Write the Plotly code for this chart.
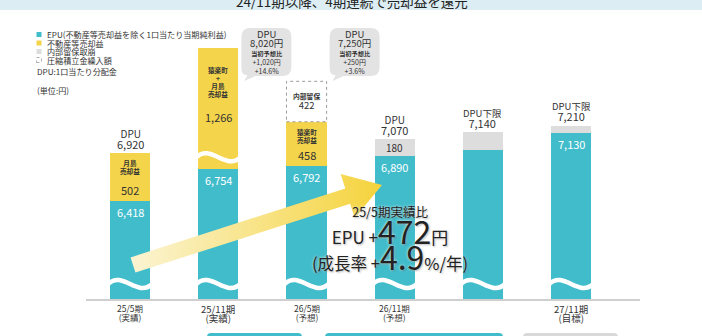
import math
import plotly.graph_objects as go

# ---------------- data ----------------
periods = ["25/5期", "25/11期", "26/5期", "26/11期", "27/5期", "27/11期"]
period_notes = ["(実績)", "(実績)", "(予想)", "(予想)", "", "(目標)"]
tick_shown = [True, True, True, True, False, True]

epu = [6418, 6754, 6792, 6890, 6960, 7130]          # EPU excluding sale gains
sale_gain = [502, 1266, 458, 0, 0, 0]               # 不動産等売却益
reserve_draw = [0, 0, 0, 180, 180, 80]              # 内部留保取崩
reserve_add = [0, 0, 422, 0, 0, 0]                  # 圧縮積立金繰入額 (内部留保)

dpu_caption = ["DPU", "", "", "DPU", "DPU下限", "DPU下限"]
gain_caption = ["月島<br>売却益", "猿楽町<br>+<br>月島<br>売却益", "猿楽町<br>売却益", "", "", ""]
epu_labeled = [True, True, True, True, False, True]
draw_labeled = [False, False, False, True, False, False]

callout_bars = [1, 2]
initial_forecast = [7000, 7000]

compare_from, compare_to = 0, 3
years_between = 1.5

dpu = [e + g + d for e, g, d in zip(epu, sale_gain, reserve_draw)]

# ---------------- style ----------------
TEAL = "#41bccb"
YELLOW = "#f4d44b"
GREY = "#dddddd"
TEXT = "#333333"
FONT = "Noto Sans CJK JP, Noto Sans, sans-serif"

W, H = 702, 336
L, R, T, B = 86, 640, 20, 299
X_RANGE = (-0.5, 5.78)
Y_RANGE = (5400, 8312)
BAR_W = 0.455


def px_x(v):
    return L + (v - X_RANGE[0]) / (X_RANGE[1] - X_RANGE[0]) * (R - L)


def px_y(v):
    return B - (v - Y_RANGE[0]) / (Y_RANGE[1] - Y_RANGE[0]) * (B - T)


def data_x(p):
    return X_RANGE[0] + (p - L) / (R - L) * (X_RANGE[1] - X_RANGE[0])


def data_y(p):
    return Y_RANGE[0] + (B - p) / (B - T) * (Y_RANGE[1] - Y_RANGE[0])


def pap_x(p):
    return (p - L) / (R - L)


def pap_y(p):
    return (B - p) / (B - T)


BAR_PX = BAR_W * (R - L) / (X_RANGE[1] - X_RANGE[0])

annotations = []
shapes = []


def sized(s, size, bold=False):
    inner = f"<b>{s}</b>" if bold else s
    return f"<span style='font-size:{size}px'>{inner}</span>"


def text_at(x, y, s, size, color=TEXT, xanchor="center", **font_extra):
    """Place a text block centred vertically on pixel (x, y); multi-line
    blocks use a line pitch of 1.3 * size."""
    annotations.append(dict(
        x=pap_x(x), y=pap_y(y), xref="paper", yref="paper",
        text=s, showarrow=False, xanchor=xanchor, yanchor="middle",
        font=dict(size=size, color=color, family=FONT, **font_extra),
    ))


def path_px(points_cmds, close=True):
    out = []
    for cmd, pts in points_cmds:
        coords = " ".join(f"{pap_x(x):.5f},{pap_y(y):.5f}" for x, y in pts)
        out.append(f"{cmd}{coords}")
    return " ".join(out) + (" Z" if close else "")


fig = go.Figure()

# ---------------- stacked bars ----------------
xs = list(range(len(periods)))
fig.add_bar(x=xs, y=epu, width=BAR_W, marker=dict(color=TEAL, line=dict(width=0)),
            name="EPU", hoverinfo="skip")
fig.add_bar(x=xs, y=sale_gain, width=BAR_W, marker=dict(color=YELLOW, line=dict(width=0)),
            name="不動産等売却益", hoverinfo="skip")
fig.add_bar(x=xs, y=reserve_draw, width=BAR_W, marker=dict(color=GREY, line=dict(width=0)),
            name="内部留保取崩", hoverinfo="skip")
fig.add_bar(x=xs, y=reserve_add, width=BAR_W, marker=dict(color="white", line=dict(width=0)),
            name="圧縮積立金繰入額", hoverinfo="skip")

# dashed outline for the retained amount
for i in xs:
    if reserve_add[i]:
        base = dpu[i]
        shapes.append(dict(type="rect", xref="x", yref="y",
                           x0=i - BAR_W / 2, x1=i + BAR_W / 2,
                           y0=base, y1=base + reserve_add[i],
                           line=dict(color="#9a9a9a", width=1, dash="dot"),
                           fillcolor="rgba(0,0,0,0)", layer="above"))
        cy = (px_y(base) + px_y(base + reserve_add[i])) / 2
        text_at(px_x(i), cy, sized("内部留保", 6.8, True) + "<br>" + sized(f"{reserve_add[i]:,}", 9.5),
                9.5 / 1.3)


# wavy break marks
def wave(cx, cy):
    x0 = cx - BAR_PX / 2 - 2
    x1 = cx + BAR_PX / 2 + 2
    w = x1 - x0
    d = path_px([("M", [(x0, cy)]), ("C", [(x0 + w / 3, cy - 14), (x0 + 2 * w / 3, cy + 14), (x1, cy)])],
                close=False)
    shapes.append(dict(type="path", xref="paper", yref="paper", path=d,
                       line=dict(color="white", width=4.5), layer="above"))


for i in xs:
    wave(px_x(i), 284)
for i in xs:
    if sale_gain[i] > 1000:
        wave(px_x(i), px_y(epu[i]) - 12)

# ---------------- value labels ----------------
CAP_PITCH = 8.0
for i in xs:
    cx = px_x(i)
    if epu_labeled[i]:
        text_at(cx, px_y(epu[i]) + 11, f"{epu[i]:,}", 11, color="white")
    if sale_gain[i]:
        top = px_y(epu[i] + sale_gain[i])
        bottom = px_y(epu[i])
        lines = gain_caption[i].split("<br>")
        first = top + (10 if len(lines) <= 2 else 22)
        block_cy = first + CAP_PITCH * (len(lines) - 1) / 2
        text_at(cx, block_cy, "<br>".join(sized(s, 6.6, True) for s in lines), CAP_PITCH / 1.3)
        if len(lines) <= 2:
            text_at(cx, bottom - 11, f"{sale_gain[i]:,}", 11)
        else:
            text_at(cx, (top + bottom) / 2 + 8, f"{sale_gain[i]:,}", 11)
    if draw_labeled[i]:
        cy = (px_y(epu[i]) + px_y(dpu[i])) / 2
        text_at(cx, cy, f"{reserve_draw[i]:,}", 10)
    if dpu_caption[i]:
        top = px_y(dpu[i])
        cap_size = 10 if dpu_caption[i] == "DPU" else 9.5
        text_at(cx, top - 14, sized(dpu_caption[i], cap_size) + "<br>" + sized(f"{dpu[i]:,}", 11),
                11 / 1.3)

# x labels
emphasized = {1, 5}
for i in xs:
    if not tick_shown[i]:
        continue
    size = 9.5 if i in emphasized else 8.5
    off = 1 if i in emphasized else 0
    text_at(px_x(i), 312.8 + off, sized(periods[i], size) + "<br>" + sized(period_notes[i], size), 9.2 / 1.3)


# ---------------- callout bubbles ----------------
def bubble(x0, y0, x1, y1, r, tip):
    cmds = [
        ("M", [(x0 + r, y0)]), ("L", [(x1 - r, y0)]), ("Q", [(x1, y0), (x1, y0 + r)]),
        ("L", [(x1, y1 - r)]), ("Q", [(x1, y1), (x1 - r, y1)]),
        ("L", [(x0 + 14, y1)]), ("L", [tip]), ("L", [(x0 + 6, y1 - 1)]),
        ("Q", [(x0, y1), (x0, y1 - r)]), ("L", [(x0, y0 + r)]), ("Q", [(x0, y0), (x0 + r, y0)]),
    ]
    shapes.append(dict(type="path", xref="paper", yref="paper", path=path_px(cmds),
                       fillcolor="#e3e3e3", line=dict(width=0), layer="above"))


for k, i in enumerate(callout_bars):
    left = px_x(i) + BAR_PX / 2 + 3
    bx0, bx1 = left, left + 50
    bubble(bx0, 28, bx1, 76, 9, (bx0 + 3, 81))
    cx = (bx0 + bx1) / 2
    diff = dpu[i] - initial_forecast[k]
    pct = diff / initial_forecast[k] * 100
    body = "<br>".join([
        sized("DPU", 9.5),
        sized(f"{dpu[i]:,}円", 9.5),
        sized("当初予想比", 6.2, True),
        sized(f"+{diff:,}円", 7),
        sized(f"+{pct:.1f}%", 7),
    ])
    text_at(cx, 52, body, 9.0 / 1.3)

# ---------------- growth arrow ----------------
sx, sy = 133, 265
tx, ty = 382, 185
length = math.hypot(tx - sx, ty - sy)
ux, uy = (tx - sx) / length, (ty - sy) / length
nx, ny = -uy, ux
head_len, head_half, shaft_half = 36, 23, 8
hx, hy = tx - ux * head_len, ty - uy * head_len
poly = [
    (sx + nx * shaft_half, sy + ny * shaft_half),
    (hx + nx * shaft_half, hy + ny * shaft_half),
    (hx + nx * head_half, hy + ny * head_half),
    (tx, ty),
    (hx - nx * head_half, hy - ny * head_half),
    (hx - nx * shaft_half, hy - ny * shaft_half),
    (sx - nx * shaft_half, sy - ny * shaft_half),
]
poly.append(poly[0])
fig.add_scatter(
    x=[data_x(p[0]) for p in poly], y=[data_y(p[1]) for p in poly],
    mode="lines", line=dict(width=0), fill="toself",
    fillgradient=dict(type="horizontal", colorscale=[[0, "#fbf4d3"], [1, "#f5d33c"]]),
    hoverinfo="skip", showlegend=False,
)

# ---------------- growth text ----------------
growth = epu[compare_to] - epu[compare_from]
rate = growth / epu[compare_from] * 100 / years_between
glow = "0px 0px 3px #ffffff, 1px 1px 2px rgba(0,0,0,0.35)"
growth_text = "<br>".join([
    sized(f"{periods[compare_from]}実績比", 12.5),
    sized("EPU +", 17) + sized(f"{growth}", 32) + sized("円", 17),
    sized("(成長率 +", 16.5) + sized(f"{rate:.1f}", 32) + sized("%/年)", 16.5),
])
text_at(390, 240, growth_text, 26.5 / 1.3, color="#222222", shadow=glow)

# ---------------- legend ----------------
legend_rows = [
    (TEAL, "solid", "EPU(不動産等売却益を除く1口当たり当期純利益)"),
    (YELLOW, "solid", "不動産等売却益"),
    (GREY, "solid", "内部留保取崩"),
    ("#9a9a9a", "dash", "圧縮積立金繰入額"),
]
LEG_PITCH = 8.5
for k, (col, kind, label) in enumerate(legend_rows):
    cy = 34.5 + LEG_PITCH * k
    if kind == "solid":
        shapes.append(dict(type="rect", xref="paper", yref="paper",
                           x0=pap_x(36.5), x1=pap_x(41.5), y0=pap_y(cy + 2.5), y1=pap_y(cy - 2.5),
                           fillcolor=col, line=dict(width=0)))
    else:
        shapes.append(dict(type="rect", xref="paper", yref="paper",
                           x0=pap_x(36.5), x1=pap_x(41.5), y0=pap_y(cy + 2.5), y1=pap_y(cy - 2.5),
                           fillcolor="white", line=dict(color=col, width=0.8, dash="dot")))
    text_at(44.5, cy, label, 8.1, xanchor="left")
text_at(34.5, 71.5, "DPU:1口当たり分配金", 8.1, xanchor="left")
text_at(34.5, 91, "(単位:円)", 8.1, xanchor="left")

# ---------------- header band and footer tabs ----------------
shapes.append(dict(type="rect", xref="paper", yref="paper",
                   x0=pap_x(0), x1=pap_x(W), y0=pap_y(10), y1=pap_y(-5),
                   fillcolor="#dcedf3", line=dict(width=0), layer="below"))
text_at(352, 1.5, "24/11期以降、4期連続で売却益を還元", 13.5, color="#222222")

for (x0, x1, col) in [(207, 302, TEAL), (325, 503, TEAL), (523, 618, "#d9d9d9")]:
    r = 4
    cmds = [("M", [(x0, 345)]), ("L", [(x0, 333 + r)]), ("Q", [(x0, 333), (x0 + r, 333)]),
            ("L", [(x1 - r, 333)]), ("Q", [(x1, 333), (x1, 333 + r)]), ("L", [(x1, 345)])]
    shapes.append(dict(type="path", xref="paper", yref="paper", path=path_px(cmds),
                       fillcolor=col, line=dict(width=0)))

fig.update_layout(
    width=W, height=H,
    margin=dict(l=L, r=W - R, t=T, b=H - B, pad=0, autoexpand=False),
    paper_bgcolor="white", plot_bgcolor="white",
    barmode="stack", bargap=0, showlegend=False,
    font=dict(family=FONT, color=TEXT),
    xaxis=dict(range=list(X_RANGE), showgrid=False, zeroline=False, showticklabels=False,
               ticks="", showline=True, linecolor="#cfcfcf", linewidth=1.5, fixedrange=True),
    yaxis=dict(range=list(Y_RANGE), visible=False, fixedrange=True),
    annotations=annotations,
    shapes=shapes,
)

fig.write_html("out.html")
